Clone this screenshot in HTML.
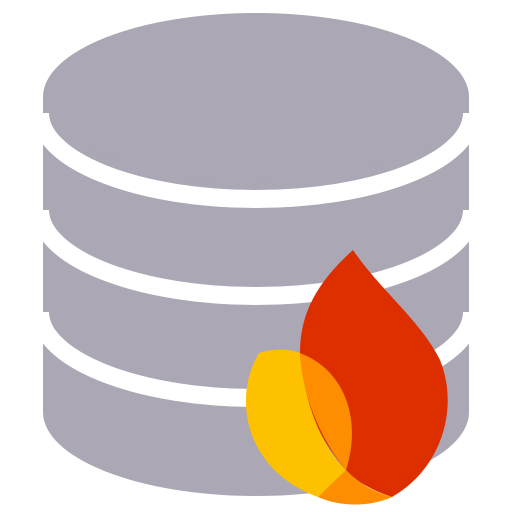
<!DOCTYPE html>
<html><head><style>html,body{margin:0;padding:0;background:#fff}svg{display:block}</style></head>
<body>
<svg width="512" height="512" viewBox="0 0 512 512" xmlns="http://www.w3.org/2000/svg">
<path d="M43,97 L43,412 A213,84 0 0 0 469,412 L469,97 Z" fill="#aba7b5"/>
<ellipse cx="256" cy="97" rx="213" ry="84" fill="#aba7b5"/>
<g fill="none" stroke="#fff" stroke-width="18">
<path d="M40,113 A216,86 0 0 0 472,113"/>
<path d="M40,210 A216,86 0 0 0 472,210"/>
<path d="M40,312 A216,86 0 0 0 472,312"/>
</g>
<path d="M353,250 C380,290 420,320 440,360 C460,410 440,470 392,497 C370,490 355,480 346,470 C320,440 300,400 300,353 C300,310 320,280 353,250 Z" fill="#dd2e00"/>
<path d="M259,353 C275,348 290,349 300,353 C305,410 325,450 346,470 L318,497 C270,480 245,440 246,400 C246,380 252,365 259,353 Z" fill="#fdc100"/>
<path d="M300,353 C345,370 362,420 346,470 C325,445 302,400 300,353 Z" fill="#fe8e00"/>
<path d="M318,497 L346,470 C360,485 375,492 392,497 C370,507 340,507 318,497 Z" fill="#fe8e00"/>
</svg>
</body></html>
